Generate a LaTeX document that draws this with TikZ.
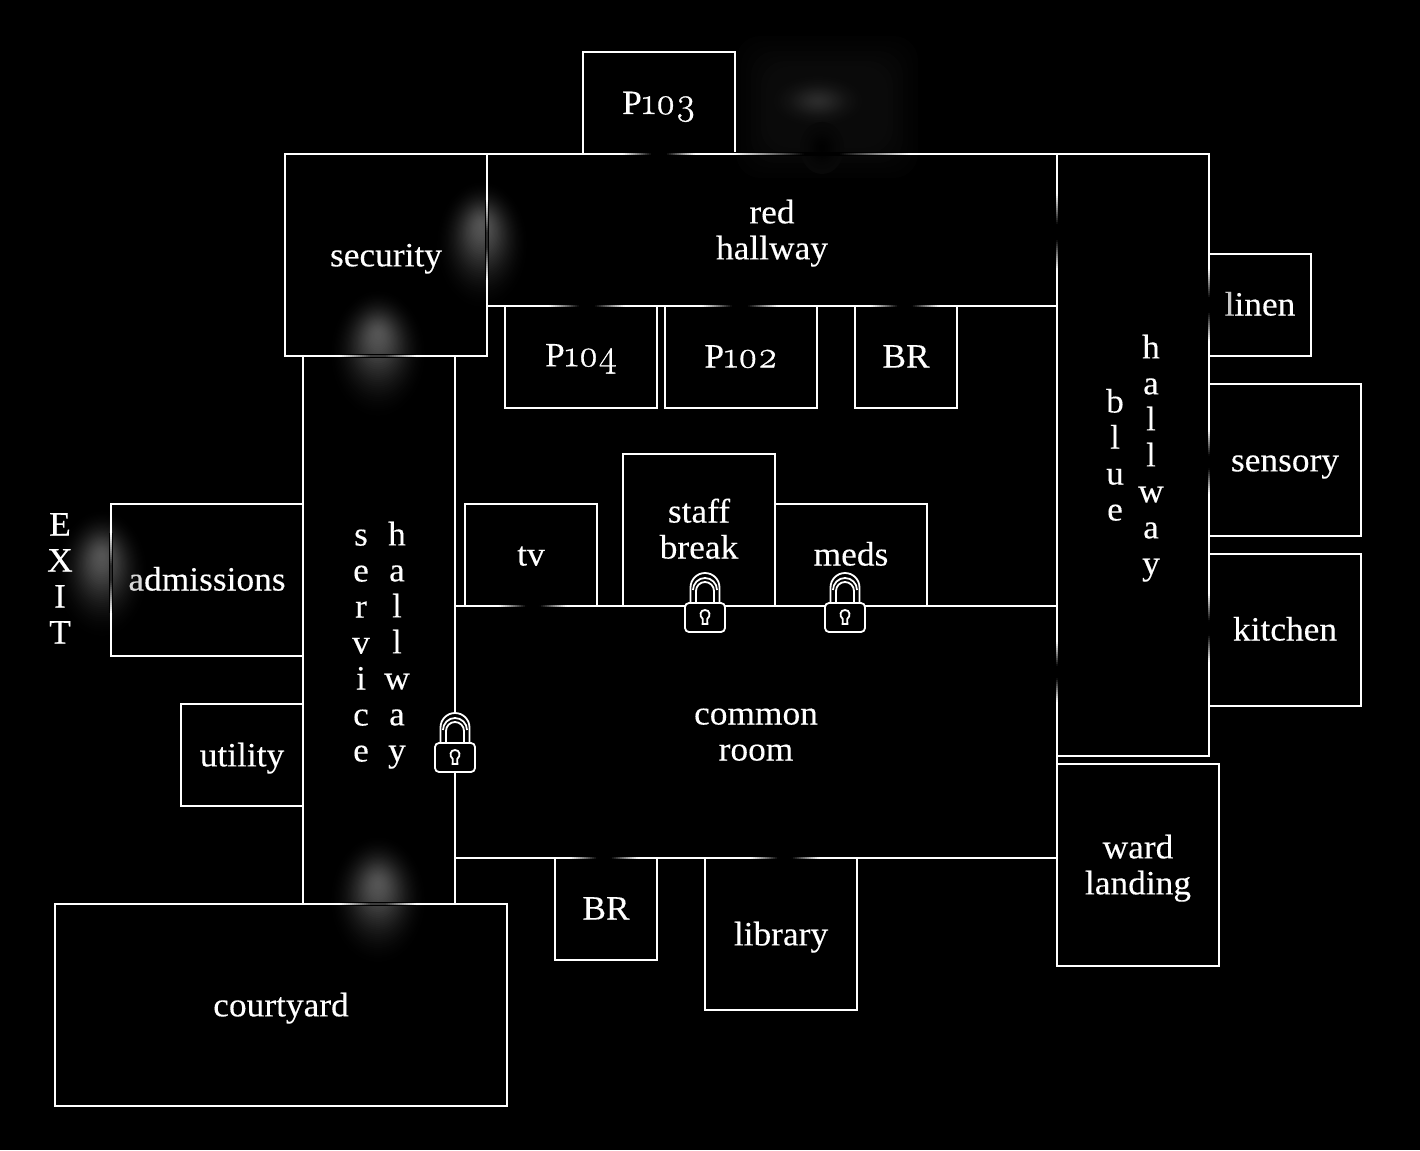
\documentclass[tikz,border=0pt]{standalone}
\usepackage{fontspec}
\setmainfont[FakeStretch=1.04,FakeBold=0.2]{Liberation Serif}
\newfontfamily\oldnum[Numbers=OldStyle,FakeBold=0.8]{Latin Modern Roman}
\newcommand\st{\rule[-3pt]{0pt}{33pt}}
\newcommand\stu{\rule[-5pt]{0pt}{31pt}}
\newcommand\nums[1]{{\oldnum\fontsize{38}{36}\selectfont #1}}
\tikzset{
  room/.style={draw=white,line width=2pt,text=white,inner sep=0pt,outer sep=0pt,align=center,
    node font=\fontsize{34}{36}\selectfont},
  label text/.style={text=white,inner sep=0pt,align=center,node font=\fontsize{34}{36}\selectfont},
  lockline/.style={draw=white,line width=1.8pt,fill=black},
}
% name x1 y1 x2 y2 text
\newcommand\room[6]{\node[room,minimum width={(#4-#2)*1pt},minimum height={(#5-#3)*1pt}] (#1) at ({(#2+#4)/2},{(#3+#5)/2}) {#6};}
% horizontal wall fade: cx y half(even) core-grey
\newcommand\doorh[4]{%
  \fill[black] ({#1-#3},{#2-1.6}) rectangle ({#1+#3},{#2+1.6});
  \foreach \d in {-#3,-\numexpr#3-2\relax,...,\numexpr#3-2\relax}{
    \pgfmathsetmacro\s{min(1,max(0,(abs(\d+1)/#3-.2)/.8))}
    \pgfmathsetmacro\g{#4+(1-#4)*\s}
    \definecolor{wf}{gray}{\g}
    \fill[wf] ({#1+\d},{#2-1}) rectangle ({#1+\d+2},{#2+1});
  }}
% vertical wall fade: x cy half(even) core-grey
\newcommand\doorv[4]{%
  \fill[black] ({#1-1.6},{#2-#3}) rectangle ({#1+1.6},{#2+#3});
  \foreach \d in {-#3,-\numexpr#3-2\relax,...,\numexpr#3-2\relax}{
    \pgfmathsetmacro\s{min(1,max(0,(abs(\d+1)/#3-.2)/.8))}
    \pgfmathsetmacro\g{#4+(1-#4)*\s}
    \definecolor{wf}{gray}{\g}
    \fill[wf] ({#1-1},{#2+\d}) rectangle ({#1+1},{#2+\d+2});
  }}
% soft blob: cx cy rx ry peak base dy(upward shift of the peak)
\newcommand\blob[7]{%
  \foreach \i in {40,39,...,1}{
    \pgfmathsetmacro\t{\i/40}
    \pgfmathsetmacro\g{#6+(#5-#6)*(exp(-3.2*\t*\t)-exp(-3.2))/(1-exp(-3.2))}
    \definecolor{bl}{gray}{\g}
    \fill[bl] ({#1},{#2-#7*(1-\t)}) ellipse ({#3*\t} and {#4*\t});
  }}
% lock: cx, top y
\newcommand\padlock[2]{\begin{scope}[shift={(#1,#2)}]
  \path[lockline] (-14.5,31) -- (-14.5,14.5) arc[start angle=180,end angle=360,radius=14.5] -- (14.5,31);
  \path[lockline,fill=none] (-12,17) arc[start angle=180,end angle=360,radius=12];
  \path[lockline,fill=none] (-9,31) -- (-9,18) arc[start angle=180,end angle=360,radius=9] -- (9,31);
  \path[lockline,rounded corners=4pt] (-20,30) rectangle (20,59);
  \path[lockline] (-2.4,51) -- (-2.2,46) .. controls (-6,43) and (-5,37) .. (0,37) .. controls (5,37) and (6,43) .. (2.2,46) -- (2.4,51) -- cycle;
\end{scope}}
\begin{document}
\begin{tikzpicture}[x=1pt,y=-1pt]
\useasboundingbox (0,0) rectangle (1420,1150);
\fill[black] (0,0) rectangle (1420,1150);
% haze above the red hallway
\foreach \k in {1,...,7}{
  \pgfmathsetmacro\g{\k*0.0056}
  \definecolor{hz}{gray}{\g}
  \fill[hz,rounded corners=24pt] ({736+(\k-1)*5},{36+(\k-1)*5}) rectangle ({918-(\k-1)*5},{178-(\k-1)*5});
}
\blob{818}{101}{48}{27}{.165}{.039}{0}
\blob{822}{148}{22}{26}{.004}{.032}{0}
% glows
\blob{482}{245}{46}{64}{.33}{0}{20}
\blob{378}{354}{48}{64}{.33}{0}{20}
\blob{378}{900}{48}{64}{.33}{0}{16}
\blob{102}{574}{46}{64}{.33}{0}{18}
% rooms
\room{p103}{583}{52}{735}{154}{\st P\nums{103}}
\room{security}{285}{154}{487}{356}{\st security}
\room{redhall}{487}{154}{1057}{306}{\st red\\\st hallway}
\room{bluehall}{1057}{154}{1209}{756}{}
\room{linen}{1209}{254}{1311}{356}{\stu{\color{white!78!black}l}inen}
\room{sensory}{1209}{384}{1361}{536}{\st sensory}
\room{kitchen}{1209}{554}{1361}{706}{\stu kitchen}
\room{p104}{505}{306}{657}{408}{\stu P\nums{104}}
\room{p102}{665}{306}{817}{408}{\stu P\nums{102}}
\room{brtop}{855}{306}{957}{408}{\stu BR}
\room{staff}{623}{454}{775}{606}{\stu staff\\\stu break}
\room{tv}{465}{504}{597}{606}{\stu tv}
\room{meds}{775}{504}{927}{606}{\stu meds}
\room{common}{455}{606}{1057}{858}{\stu common\\\stu room}
\room{service}{303}{356}{455}{904}{}
\room{admissions}{111}{504}{303}{656}{\stu{\color{white!85!black}a}dmissions}
\room{utility}{181}{704}{303}{806}{\st utility}
\room{courtyard}{55}{904}{507}{1106}{\st courtyard}
\room{brlow}{555}{858}{657}{960}{\stu BR}
\room{library}{705}{858}{857}{1010}{\st library}
\room{ward}{1057}{764}{1219}{966}{\st ward\\\st landing}
% stacked labels
\node[label text] (blueword) at (1115,453) {\st b\\\st l\\\st u\\\st e};
\node[label text] (bluehallword) at (1151,455) {\st h\\\st a\\\st l\\\st l\\\st w\\\st a\\\st y};
\node[label text] (serviceword) at (361,640) {\st s\\\st e\\\st r\\\st v\\\st i\\\st c\\\st e};
\node[label text] (servhallword) at (397,642) {\st h\\\st a\\\st l\\\st l\\\st w\\\st a\\\st y};
\node[label text] (exitword) at (60,576) {\st E\\\st X\\\st I\\\st T};
% door fades in the walls
\doorh{659}{154}{36}{0}
\doorh{822}{154}{88}{0}
\doorv{487}{240}{40}{.17}
\doorh{378}{356}{38}{.24}
\doorh{378}{904}{38}{.24}
\doorv{111}{573}{40}{.17}
\doorv{1057}{232}{38}{0}
\doorv{1209}{305}{36}{0}
\doorv{1209}{462}{32}{0}
\doorv{1209}{628}{34}{0}
\doorv{1057}{672}{30}{0}
\doorh{587}{306}{38}{0}
\doorh{740}{306}{38}{0}
\doorh{905}{306}{34}{0}
\doorh{533}{606}{34}{0}
\doorh{604}{858}{34}{0}
\doorh{785}{858}{34}{0}
% locks
\padlock{705}{573}
\padlock{845}{573}
\padlock{455}{713}
\end{tikzpicture}
\end{document}
